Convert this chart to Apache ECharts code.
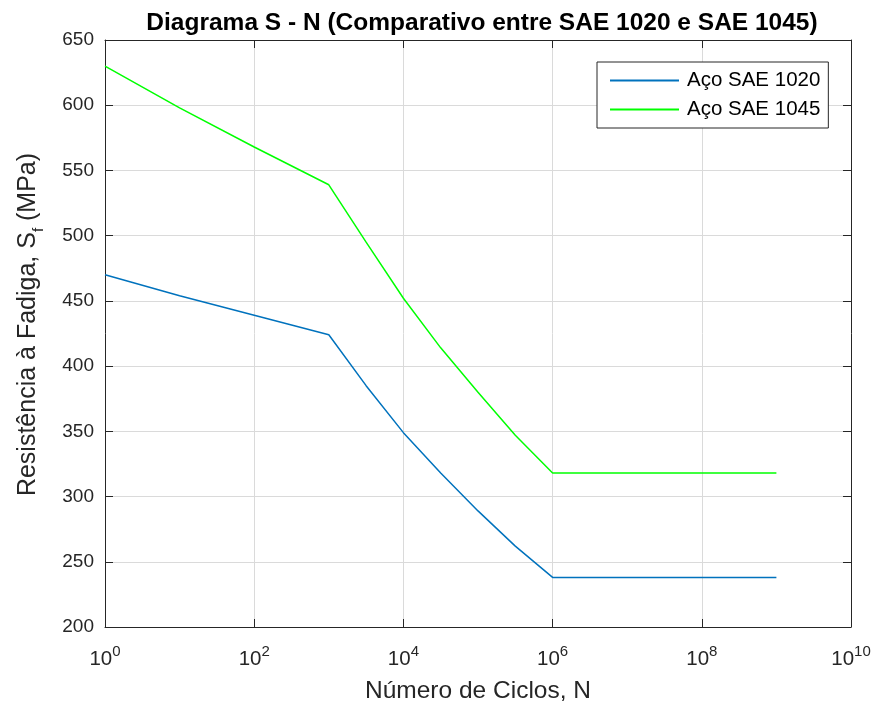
<!DOCTYPE html>
<html>
<head>
<meta charset="utf-8">
<script src="https://cdn.jsdelivr.net/npm/echarts@6/dist/echarts.min.js"></script>
<style>
  html, body { margin: 0; padding: 0; background: #fff; }
  #chart { width: 874px; height: 702px; }
</style>
</head>
<body>
<div id="chart"></div>
<script>
// valores (N em ciclos, tensão em MPa)
const cycles = [1, 10, 100, 1e3, 3162, 1e4, 31623, 1e5, 316228, 1e6, 1e9];
const sae1020 = [470, 454, 439, 424, 385, 349, 318, 289, 262, 238, 238];
const sae1045 = [630, 598, 568, 539, 495, 452, 414, 380, 347, 318, 318];
const seriesNames = ['Aço SAE 1020', 'Aço SAE 1045'];
const seriesColors = ['#0072BD', '#00FF00'];
const yTicks = { min: 200, max: 650, step: 50 };

const axisColor = '#262626';
const gridColor = '#dadada';
const font = 'Liberation Sans, Arial, Helvetica, sans-serif';

const pairs = (ys) => cycles.map((n, i) => [n, ys[i]]);

const chart = echarts.init(document.getElementById('chart'));

const baseX = {
  type: 'log',
  logBase: 10,
  min: 1,
  max: 1e10,
  interval: 2,
  axisLine: { show: true, lineStyle: { color: axisColor, width: 1 } },
  axisTick: { show: true, inside: true, length: 8, lineStyle: { color: axisColor } },
  minorTick: { show: false },
};
const baseY = {
  type: 'value',
  min: yTicks.min,
  max: yTicks.max,
  interval: yTicks.step,
  axisLine: { show: true, lineStyle: { color: axisColor, width: 1 } },
  axisTick: { show: true, inside: true, length: 8, lineStyle: { color: axisColor } },
};

const option = {
  backgroundColor: '#fff',
  animation: false,
  textStyle: { fontFamily: font },
  title: {
    text: 'Diagrama S - N (Comparativo entre SAE 1020 e SAE 1045)',
    left: 477,
    top: 6,
    textAlign: 'center',
    textStyle: { fontFamily: font, fontSize: 24.5, fontWeight: 'bold', color: '#000' },
  },
  grid: { left: 105, top: 40, width: 746, height: 587, containLabel: false, outerBoundsMode: 'none' },
  legend: {
    orient: 'vertical',
    left: 597,
    top: 62,
    padding: [8, 8, 8, 13],
    itemGap: 8,
    itemWidth: 69,
    itemHeight: 2,
    icon: 'rect',
    backgroundColor: '#fff',
    borderColor: axisColor,
    borderWidth: 1,
    borderRadius: 0,
    data: seriesNames,
    textStyle: { fontFamily: font, fontSize: 20.5, color: '#000', lineHeight: 20, padding: [0, 0, 0, 3] },
  },
  xAxis: [
    Object.assign({}, baseX, {
      position: 'bottom',
      name: 'Número de Ciclos, N',
      nameLocation: 'middle',
      nameGap: 52,
      nameTextStyle: { fontFamily: font, fontSize: 24.5, color: axisColor },
      axisLabel: {
        margin: 21,
        color: axisColor,
        formatter: (v) => '{b|10}{s|' + Math.round(Math.log10(v)) + '}',
        rich: {
          b: { fontFamily: font, fontSize: 20.5, color: axisColor, verticalAlign: 'bottom', lineHeight: 22 },
          s: { fontFamily: font, fontSize: 15, color: axisColor, verticalAlign: 'bottom', lineHeight: 15, padding: [0, 0, 11, 0] },
        },
      },
      splitLine: { show: true, lineStyle: { color: gridColor, width: 1 } },
    }),
    Object.assign({}, baseX, {
      position: 'top',
      axisLabel: { show: false },
      splitLine: { show: false },
    }),
  ],
  yAxis: [
    Object.assign({}, baseY, {
      position: 'left',
      name: '{a|Resistência à Fadiga, S}{f|f}{a| (MPa)}',
      nameLocation: 'middle',
      nameGap: 64,
      nameRotate: 90,
      nameTextStyle: {
        padding: [0, 0, 0, 18],
        rich: {
          a: { fontFamily: font, fontSize: 25, color: axisColor, verticalAlign: 'bottom', lineHeight: 26 },
          f: { fontFamily: font, fontSize: 15, color: axisColor, verticalAlign: 'bottom', lineHeight: 15, padding: [0, 0, -5, 0] },
        },
      },
      axisLabel: { margin: 11, fontFamily: font, fontSize: 19, color: axisColor },
      splitLine: { show: true, lineStyle: { color: gridColor, width: 1 } },
    }),
    Object.assign({}, baseY, {
      position: 'right',
      axisLabel: { show: false },
      splitLine: { show: false },
    }),
  ],
  series: [sae1020, sae1045].map((ys, i) => ({
    name: seriesNames[i],
    type: 'line',
    xAxisIndex: 0,
    yAxisIndex: 0,
    data: pairs(ys),
    symbol: 'none',
    lineStyle: { color: seriesColors[i], width: 1.5 },
    itemStyle: { color: seriesColors[i] },
  })),
};

chart.setOption(option);
</script>
</body>
</html>
